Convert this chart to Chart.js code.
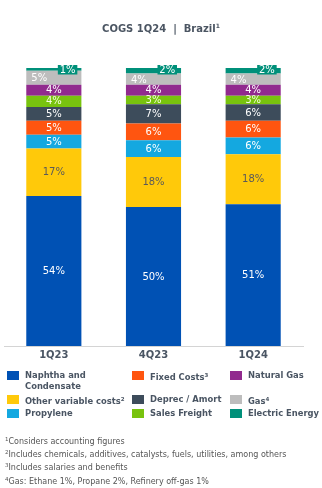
<!DOCTYPE html>
<html>
<head>
<meta charset="utf-8">
<script src="https://cdn.jsdelivr.net/npm/chart.js@4"></script>
<style>
  body { margin: 0; background: #fff; font-family: "DejaVu Sans", Verdana, sans-serif; }
  #wrap { position: relative; width: 322px; height: 488px; overflow: hidden; }
  #title { position: absolute; top: 22px; left: 0; width: 322px; text-align: center;
           font-weight: bold; font-size: 10px; color: #4b5562; }
  #title sup { font-size: 6px; vertical-align: 4px; }
  #chartBox { position: absolute; left: 0; top: 0; width: 322px; height: 371px; }
  .lg { position: absolute; font-weight: bold; font-size: 8.4px; color: #4a5563; line-height: 11px; }
  .sw { position: absolute; width: 12px; height: 9px; }
  .lg sup { font-size: 5.5px; vertical-align: 3px; }
  #notes { position: absolute; left: 5px; top: 434px; font-size: 8px; color: #555; line-height: 11.2px; }
  #notes sup { font-size: 5.5px; vertical-align: 3px; }
</style>
</head>
<body>
<div id="wrap">
  <div id="chartBox"><canvas id="cogsChart"></canvas></div>
  <div id="title">COGS 1Q24 &nbsp;|&nbsp; Brazil<sup>1</sup></div>
  <div id="legend"></div>
  <div id="notes">
    <div><sup>1</sup>Considers accounting figures</div>
    <div><sup>2</sup>Includes chemicals, additives, catalysts, fuels, utilities, among others</div>
    <div><sup>3</sup>Includes salaries and benefits</div>
    <div><sup>4</sup>Gas: Ethane 1%, Propane 2%, Refinery off-gas 1%</div>
  </div>
</div>
<script>
const categories = ["1Q23", "4Q23", "1Q24"];

// share of COGS, stacked bottom to top
const naphtha = [54, 50, 51];
const otherVariable = [17, 18, 18];
const propylene = [5, 6, 6];
const fixedCosts = [5, 6, 6];
const deprecAmort = [5, 7, 6];
const salesFreight = [4, 3, 3];
const naturalGas = [4, 4, 4];
const gas = [5, 4, 4];
const electricEnergy = [1, 2, 2];

const series = [
    { label: "Naphtha and\nCondensate", data: naphtha, color: "#0051b4", text: "#ffffff" },
    { label: "Other variable costs", sup: "2", data: otherVariable, color: "#ffc90a", text: "#5a5a5a" },
    { label: "Propylene", data: propylene, color: "#14a8e0", text: "#ffffff" },
    { label: "Fixed Costs", sup: "3", data: fixedCosts, color: "#ff5510", text: "#ffffff" },
    { label: "Deprec / Amort", data: deprecAmort, color: "#3d4c5b", text: "#ffffff" },
    { label: "Sales Freight", data: salesFreight, color: "#78c30e", text: "#f4ffe0" },
    { label: "Natural Gas", data: naturalGas, color: "#912a8e", text: "#ffffff" },
    { label: "Gas", sup: "4", data: gas, color: "#bdbdbd", text: "#ffffff", align: "left" },
    { label: "Electric Energy", data: electricEnergy, color: "#00907a", text: "#ffffff", tag: true }
];

// value labels drawn on each segment
const segmentLabels = {
    id: "segmentLabels",
    afterDatasetsDraw(chart) {
        const ctx = chart.ctx;
        ctx.save();
        ctx.font = "10px 'DejaVu Sans'";
        ctx.textBaseline = "middle";
        chart.data.datasets.forEach((ds, i) => {
            const s = series[i];
            chart.getDatasetMeta(i).data.forEach((bar, j) => {
                const p = bar.getProps(["x", "y", "base", "width"], true);
                const txt = ds.data[j] + "%";
                const mid = (p.y + p.base) / 2;
                if (s.tag) {
                    const bx = p.x + 4, bw = 19.5, by = p.y - 3, bh = 9.5;
                    ctx.fillStyle = s.color;
                    ctx.fillRect(bx, by, bw, bh);
                    ctx.fillStyle = s.text;
                    ctx.textAlign = "center";
                    ctx.fillText(txt, bx + bw / 2, by + bh / 2 + 0.5);
                } else if (s.align === "left") {
                    ctx.fillStyle = s.text;
                    ctx.textAlign = "left";
                    ctx.fillText(txt, p.x - p.width / 2 + 5, mid + 1);
                } else {
                    ctx.fillStyle = s.text;
                    ctx.textAlign = "center";
                    ctx.fillText(txt, p.x, mid + 0.5);
                }
            });
        });
        ctx.restore();
    }
};

new Chart(document.getElementById("cogsChart"), {
    type: "bar",
    data: {
        labels: categories,
        datasets: series.map(s => ({
            label: s.label,
            data: s.data,
            backgroundColor: s.color,
            borderWidth: 0,
            categoryPercentage: 1,
            barPercentage: 0.553
        }))
    },
    options: {
        responsive: true,
        maintainAspectRatio: false,
        animation: false,
        layout: { padding: { top: 68, left: 4, right: 19, bottom: 7 } },
        plugins: {
            legend: { display: false },
            tooltip: { enabled: false }
        },
        scales: {
            x: {
                stacked: true,
                grid: { display: false, drawTicks: false },
                border: { display: true, color: "#d4d4d4", width: 1 },
                ticks: {
                    color: "#4a5563",
                    padding: 3,
                    font: { family: "DejaVu Sans", size: 10, weight: "bold" }
                }
            },
            y: {
                stacked: true,
                display: false,
                min: 0,
                max: 100
            }
        }
    },
    plugins: [segmentLabels]
});

// Legend, three columns in the order it is read
function buildLegend() {
    const box = document.getElementById("legend");
    const order = [
        [0, 7, 371], [3, 132, 371], [6, 230, 371],
        [1, 7, 395], [4, 132, 395], [7, 230, 395],
        [2, 7, 409], [5, 132, 409], [8, 230, 409]
    ];
    order.forEach(([idx, x, y]) => {
        const s = series[idx];
        const sw = document.createElement("div");
        sw.className = "sw";
        sw.style.left = x + "px";
        sw.style.top = y + "px";
        sw.style.background = s.color;
        box.appendChild(sw);

        const t = document.createElement("div");
        t.className = "lg";
        t.style.left = (x + 18) + "px";
        t.style.top = (y - 1) + "px";
        t.innerHTML = s.label.replace("\n", "<br>") + (s.sup ? "<sup>" + s.sup + "</sup>" : "");
        box.appendChild(t);
    });
}

buildLegend();
</script>
</body>
</html>
